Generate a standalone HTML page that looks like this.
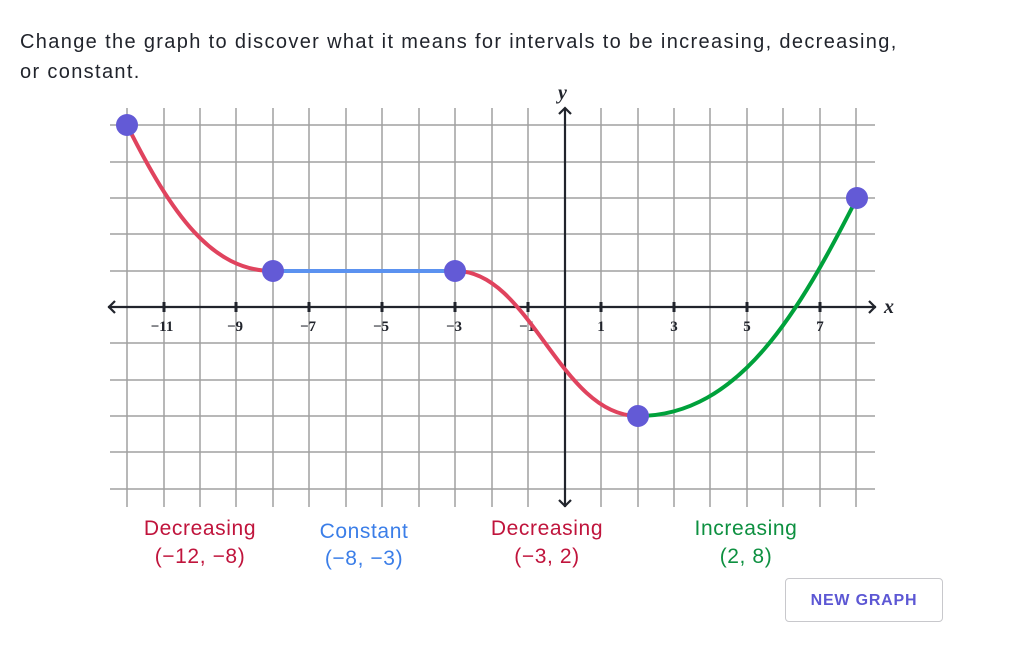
<!DOCTYPE html>
<html><head><meta charset="utf-8"><style>
body{margin:0;background:#fff;width:1032px;height:645px;overflow:hidden;font-family:"Liberation Sans",sans-serif}
.t{position:absolute;left:20px;top:27px;font-size:20px;line-height:30px;color:#21242c;letter-spacing:1.35px;white-space:nowrap}
.btn{position:absolute;left:785px;top:578px;width:158px;height:44px;border:1px solid #c8c8cc;border-radius:4px;color:#5c57d4;font-weight:bold;font-size:16px;text-align:center;line-height:44px;box-sizing:border-box;letter-spacing:0.8px}
</style></head><body>
<div class="t">Change the graph to discover what it means for intervals to be increasing, decreasing,<br>or constant.</div>
<svg width="1032" height="645" style="position:absolute;left:0;top:0">
<g stroke="#a0a0a0" stroke-width="1.5">
<line x1="127" y1="108" x2="127" y2="507"/><line x1="164" y1="108" x2="164" y2="507"/><line x1="200" y1="108" x2="200" y2="507"/><line x1="236" y1="108" x2="236" y2="507"/><line x1="273" y1="108" x2="273" y2="507"/><line x1="309" y1="108" x2="309" y2="507"/><line x1="346" y1="108" x2="346" y2="507"/><line x1="382" y1="108" x2="382" y2="507"/><line x1="419" y1="108" x2="419" y2="507"/><line x1="455" y1="108" x2="455" y2="507"/><line x1="492" y1="108" x2="492" y2="507"/><line x1="528" y1="108" x2="528" y2="507"/><line x1="601" y1="108" x2="601" y2="507"/><line x1="638" y1="108" x2="638" y2="507"/><line x1="674" y1="108" x2="674" y2="507"/><line x1="710" y1="108" x2="710" y2="507"/><line x1="747" y1="108" x2="747" y2="507"/><line x1="783" y1="108" x2="783" y2="507"/><line x1="820" y1="108" x2="820" y2="507"/><line x1="856" y1="108" x2="856" y2="507"/>
<line x1="110" y1="125" x2="875" y2="125"/><line x1="110" y1="162" x2="875" y2="162"/><line x1="110" y1="198" x2="875" y2="198"/><line x1="110" y1="234" x2="875" y2="234"/><line x1="110" y1="271" x2="875" y2="271"/><line x1="110" y1="343" x2="875" y2="343"/><line x1="110" y1="380" x2="875" y2="380"/><line x1="110" y1="416" x2="875" y2="416"/><line x1="110" y1="452" x2="875" y2="452"/><line x1="110" y1="489" x2="875" y2="489"/>
</g>
<g stroke="#21242c" stroke-width="2.2" fill="none">
<line x1="108" y1="307" x2="876" y2="307"/><line x1="565" y1="108" x2="565" y2="507"/>
<polyline points="115,301 109,307 115,313"/><polyline points="869,301 875,307 869,313"/>
<polyline points="559,114 565,108 571,114"/><polyline points="559,500 565,506 571,500"/>
<g stroke-width="3"><line x1="164" y1="302" x2="164" y2="312"/><line x1="236" y1="302" x2="236" y2="312"/><line x1="309" y1="302" x2="309" y2="312"/><line x1="382" y1="302" x2="382" y2="312"/><line x1="455" y1="302" x2="455" y2="312"/><line x1="528" y1="302" x2="528" y2="312"/><line x1="601" y1="302" x2="601" y2="312"/><line x1="674" y1="302" x2="674" y2="312"/><line x1="747" y1="302" x2="747" y2="312"/><line x1="820" y1="302" x2="820" y2="312"/></g>
</g>
<g font-family="Liberation Serif,serif" font-weight="bold" font-size="15" fill="#21242c" text-anchor="middle">
<text x="162" y="331">−11</text><text x="235" y="331">−9</text><text x="308" y="331">−7</text><text x="381" y="331">−5</text><text x="454" y="331">−3</text><text x="527" y="331">−1</text><text x="601" y="331">1</text><text x="674" y="331">3</text><text x="747" y="331">5</text><text x="820" y="331">7</text>
</g>
<g font-family="Liberation Serif,serif" font-style="italic" font-weight="bold" font-size="20" fill="#21242c">
<text x="884" y="313">x</text><text x="558" y="99">y</text></g>
<g fill="none" stroke-width="4" stroke-linecap="round">
<path d="M127,125 C172,215 212,271 273,271" stroke="#e0435e"/>
<path d="M273,271 L456,271" stroke="#5b92f0"/>
<path d="M456,271 C530,271 560,416 638,416" stroke="#e0435e"/>
<path d="M638,416 C740,416 800,310 857,198" stroke="#00a13b"/>
</g>
<g fill="#635ad6"><circle cx="127" cy="125" r="11"/><circle cx="273" cy="271" r="11"/><circle cx="455" cy="271" r="11"/><circle cx="638" cy="416" r="11"/><circle cx="857" cy="198" r="11"/></g>
<g font-size="21" text-anchor="middle" letter-spacing="0.6">
<text x="200" y="535" fill="#c0143c">Decreasing</text><text x="200" y="563" fill="#c0143c">(−12, −8)</text>
<text x="364" y="538" fill="#3b7ee8">Constant</text><text x="364" y="565" fill="#3b7ee8">(−8, −3)</text>
<text x="547" y="535" fill="#c0143c">Decreasing</text><text x="547" y="563" fill="#c0143c">(−3, 2)</text>
<text x="746" y="535" fill="#0d9040">Increasing</text><text x="746" y="563" fill="#0d9040">(2, 8)</text>
</g>
</svg>
<div class="btn">NEW GRAPH</div>
</body></html>
